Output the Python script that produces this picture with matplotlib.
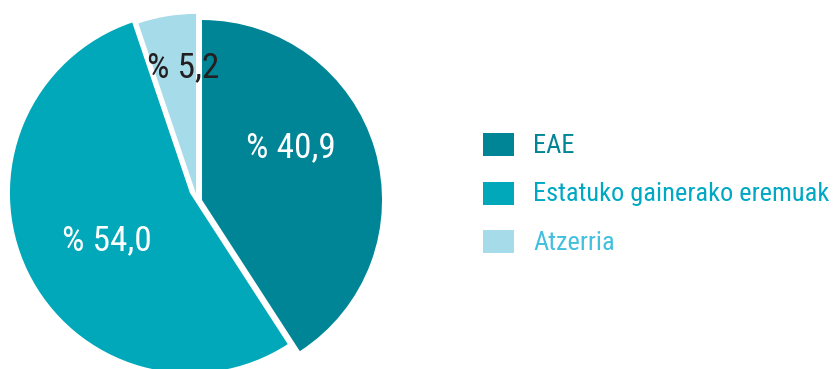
import matplotlib.pyplot as plt
from matplotlib import font_manager as fm
from matplotlib.patches import Rectangle

# Datuak
labels = ['EAE', 'Estatuko gainerako eremuak', 'Atzerria']
values = [40.9, 54.0, 5.2]

slice_colors = ['#008596', '#00a8b9', '#a6dbea']
text_colors = ['#008596', '#00a8c4', '#43c0dd']
pct_colors = ['white', 'white', '#231f20']
# zati bakoitzaren desplazamendua (erradio unitatetan)
offsets = [(0.039, -0.028), (-0.028, 0.011), (0.006, 0.006)]
# portzentaje etiketen kokapena (erdia, oinarri-lerroa)
pct_pos = [(0.533, 0.211), (-0.489, -0.306), (-0.067, 0.656)]

# letra-tipo estu bat, baldin badago
fonts = fm.fontManager.ttflist
names = {f.name for f in fonts}
stretch = 'normal'
if 'Roboto Condensed' in names:
    font = 'Roboto Condensed'
elif 'Liberation Sans Narrow' in names:
    font = 'Liberation Sans Narrow'
elif any(f.name == 'DejaVu Sans' and f.stretch == 'condensed' for f in fonts):
    font, stretch = 'DejaVu Sans', 'condensed'
else:
    font = 'Roboto'

W, H = 835, 369
R = 180.0          # erradioa pixeletan
cx, cy = 195, 195  # erdigunea pixeletan

fig = plt.figure(figsize=(W / 100, H / 100), dpi=100)
ax = fig.add_axes([0, 0, 1, 1])

wedges, _ = ax.pie(values, colors=slice_colors, startangle=90, counterclock=False,
                   radius=1, wedgeprops=dict(linewidth=0))
for w, (dx, dy) in zip(wedges, offsets):
    w.set_center((dx, dy))

for v, (x, y), c in zip(values, pct_pos, pct_colors):
    ax.text(x, y, ('%% %.1f' % v).replace('.', ','), color=c, fontsize=25.5,
            family=font, stretch=stretch, ha='center', va='baseline')

ax.set_xlim(-cx / R, (W - cx) / R)
ax.set_ylim(-(H - cy) / R, cy / R)
ax.axis('off')

# Legenda
for i, (lab, sc, tc) in enumerate(zip(labels, slice_colors, text_colors)):
    top = 133 + i * 48.5
    fig.add_artist(Rectangle((483 / W, 1 - (top + 23) / H), 31 / W, 23 / H,
                             transform=fig.transFigure, color=sc, lw=0))
    fig.text(533 / W, 1 - (top + 20) / H, lab, color=tc, fontsize=19,
             family=font, stretch=stretch, ha='left', va='baseline')

fig.savefig('out.png', dpi=100)
